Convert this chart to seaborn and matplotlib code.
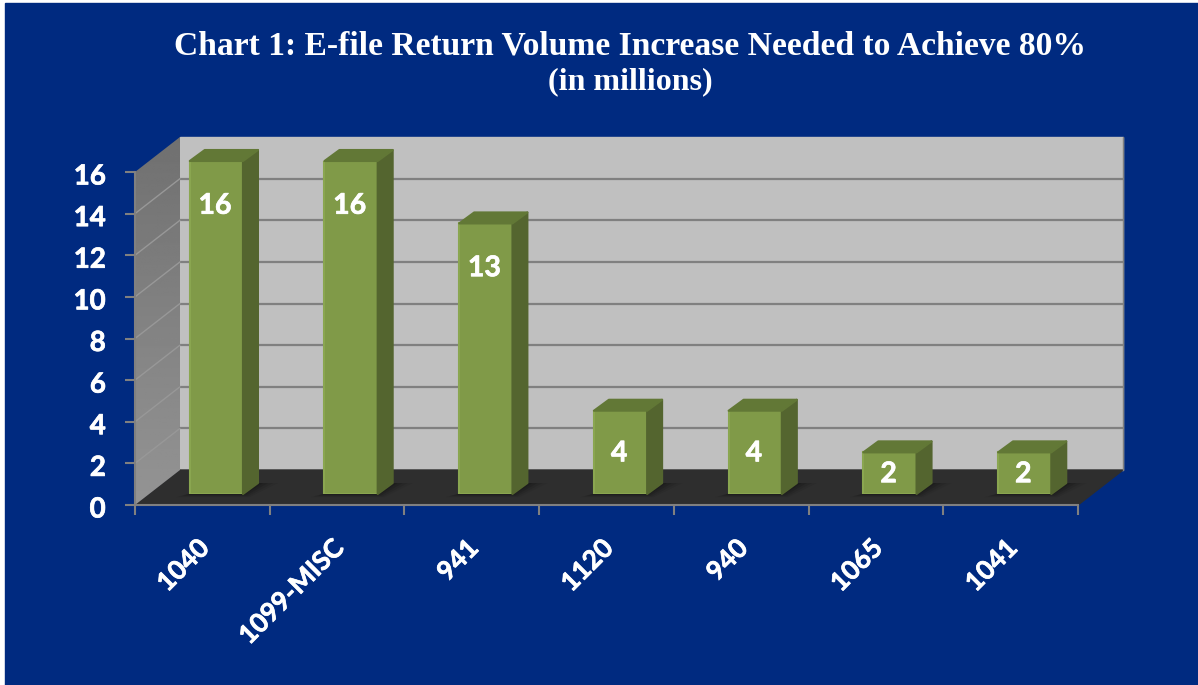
import numpy as np
import pandas as pd
import seaborn as sns
import matplotlib.pyplot as plt
import matplotlib.patheffects as pe
from matplotlib.patches import Polygon, Rectangle
from matplotlib.transforms import ScaledTranslation

forms = ["1040", "1099-MISC", "941", "1120", "940", "1065", "1041"]
volume = [16, 16, 13, 4, 4, 2, 2]
y_ticks = [0, 2, 4, 6, 8, 10, 12, 14, 16]

W, H = 1198, 685
NAVY = "#002a80"

sns.set_theme(style="ticks")
plt.rcParams["font.family"] = ["Lato", "DejaVu Sans"]

fig = plt.figure(figsize=(W / 100, H / 100), dpi=100, facecolor="white")
fig.patches.append(Rectangle((5 / W, 0), 1 - 5 / W, 1 - 3 / H, transform=fig.transFigure, color=NAVY, zorder=-10))

# the reference font is heavier than Lato Bold, thicken it a little
heavy = [pe.withStroke(linewidth=0.5, foreground="white")]


def box(x0, x1, y_bottom, y_top):
    # pixel box (from top left) to figure fraction rect
    return [x0 / W, 1 - y_bottom / H, (x1 - x0) / W, (y_bottom - y_top) / H]


# front plane of the chart
ax = fig.add_axes(box(135, 1078, 505, 172))
ax.patch.set_alpha(0)
sx = 943 / 7     # pixels per category
sy = 333 / 16    # pixels per unit
wall_dx = 45 / sx
wall_dy = 35 / sy

# back wall, floor, side wall
ax.add_patch(Polygon([(-0.5 + wall_dx, wall_dy), (6.5 + wall_dx, wall_dy), (6.5 + wall_dx, 16 + wall_dy),
                      (-0.5 + wall_dx, 16 + wall_dy)], color="#c0c0c0", clip_on=False, zorder=1))
ax.add_patch(Polygon([(-0.5, 0), (6.5, 0), (6.5 + wall_dx, wall_dy), (-0.5 + wall_dx, wall_dy)],
                     color="#2e2e2e", clip_on=False, zorder=1))
side = Polygon([(-0.5, 0), (-0.5 + wall_dx, wall_dy), (-0.5 + wall_dx, 16 + wall_dy), (-0.5, 16)],
               facecolor="none", edgecolor="none", clip_on=False)
ax.add_patch(side)
grad = np.linspace(0, 1, 200).reshape(-1, 1)
im = ax.imshow(grad, extent=(-0.5, -0.5 + wall_dx, 0, 16 + wall_dy), origin="upper", cmap="gray",
               vmin=-3.14, vmax=4, aspect="auto", zorder=1.5)
im.set_clip_box(fig.bbox)
im.set_clip_path(side)
ax.set_xlim(-0.5, 6.5)
ax.set_ylim(0, 16)

for v in y_ticks[1:-1]:
    ax.plot([-0.5 + wall_dx, 6.5 + wall_dx], [v + wall_dy, v + wall_dy], color="#808080", lw=1.6,
            clip_on=False, zorder=2)
    ax.plot([-0.5, -0.5 + wall_dx], [v, v + wall_dy], color="#989898", lw=1, clip_on=False, zorder=2)
ax.plot([6.5 + wall_dx, 6.5 + wall_dx], [wall_dy, 16 + wall_dy], color="#808080", lw=1, clip_on=False, zorder=2)

ax.set_yticks(y_ticks)
ax.set_xticks(np.arange(-0.5, 7, 1))
ax.set_xticklabels([])
ax.set_xticks(range(len(forms)), labels=forms, minor=True)
ax.tick_params(axis="x", which="major", length=7, width=1.5, color="#808080")
ax.tick_params(axis="x", which="minor", length=0, pad=22)
ax.tick_params(axis="y", length=7, width=1.5, color="#808080", pad=14)
shift_x = ScaledTranslation(-6 / 100, 0, fig.dpi_scale_trans)
shift_y = ScaledTranslation(0, -2 / 100, fig.dpi_scale_trans)
for lab in ax.get_xticklabels(minor=True):
    lab.set(rotation=45, ha="right", va="top", rotation_mode="anchor", color="white", fontweight="bold",
            fontsize=19, path_effects=heavy)
    lab.set_transform(lab.get_transform() + shift_x)
for lab in ax.get_yticklabels():
    lab.set(color="white", fontweight="bold", fontsize=20, path_effects=heavy)
    lab.set_transform(lab.get_transform() + shift_y)
for name, sp in ax.spines.items():
    sp.set_visible(name in ("left", "bottom"))
    sp.set(color="#808080", linewidth=1.5, zorder=3)

# plane the bars stand on
ax_bars = fig.add_axes(box(149, 1092, 494, 161))
ax_bars.patch.set_alpha(0)
df = pd.DataFrame({"form": forms, "volume": volume})
sns.barplot(data=df, x="form", y="volume", color="#809a48", saturation=1, width=0.395, ax=ax_bars,
            edgecolor="#8aa650", linewidth=1.5, zorder=4)
ax_bars.set_xlim(-0.5, 6.5)
ax_bars.set_ylim(0, 16)
ax_bars.axis("off")

bar_dx = 15 / sx
bar_dy = 11 / sy
for bar, v in zip(list(ax_bars.patches), volume):
    x0 = bar.get_x()
    x1 = x0 + bar.get_width()
    # blurred shadow on the floor
    for grow, alpha in zip([1.0, 0.75, 0.5, 0.25], [0.1, 0.15, 0.2, 0.25]):
        ax_bars.add_patch(Polygon([(x0 - 0.1 * grow, -0.15 * grow), (x1 + 0.05 * grow, -0.15 * grow),
                                   (x1 + bar_dx + 0.15 * grow, bar_dy), (x1 - 0.1, bar_dy)],
                                  color="#111111", alpha=alpha, lw=0, clip_on=False, zorder=3))
    ax_bars.add_patch(Polygon([(x1, 0), (x1 + bar_dx, bar_dy), (x1 + bar_dx, v + bar_dy), (x1, v)],
                              facecolor="#54652f", edgecolor="#54652f", lw=1.5, joinstyle="round",
                              clip_on=False, zorder=4))
    ax_bars.add_patch(Polygon([(x0, v), (x1, v), (x1 + bar_dx, v + bar_dy), (x0 + bar_dx, v + bar_dy)],
                              facecolor="#627836", edgecolor="#627836", lw=1.5, joinstyle="round",
                              clip_on=False, zorder=4))
    label_y = max(v - 2.15, v / 2 - 0.05)
    ax_bars.text((x0 + x1) / 2 - 0.01, label_y, str(v), color="white", fontweight="bold", fontsize=20.5,
                 ha="center", va="center", zorder=6, path_effects=heavy)

title_font = ["Liberation Serif", "DejaVu Serif"]
fig.text(630 / W, 1 - 46 / H, "Chart 1: E-file Return Volume Increase Needed to Achieve 80%", family=title_font,
         fontweight="bold", color="white", fontsize=24.2, ha="center", va="center")
fig.text(630 / W, 1 - 82 / H, "(in millions)", family=title_font, fontweight="bold", color="white",
         fontsize=23, ha="center", va="center")

fig.savefig("out.png", dpi=100, facecolor=fig.get_facecolor())
